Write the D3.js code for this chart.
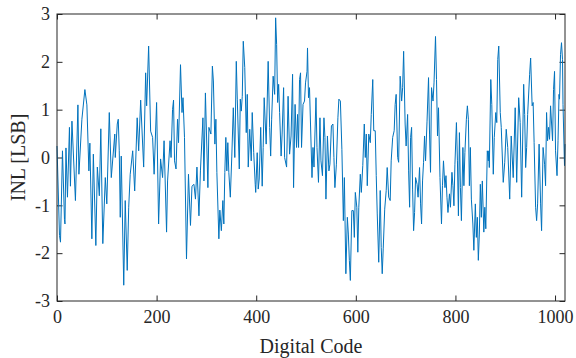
<!DOCTYPE html>
<html>
<head>
<meta charset="utf-8">
<script src="https://cdn.jsdelivr.net/npm/d3@7"></script>
<style>
  body { margin: 0; background: #fff; }
  svg { display: block; }
  text { font-family: "Liberation Serif", "Times New Roman", serif; fill: #262626; }
</style>
</head>
<body>
<svg id="chart" width="576" height="358"></svg>
<script>
// INL trace (code, value in LSB)
const codes = [0,5,7,11,15,16,18,21,25,27,30,37,42,44,50,56,60,64,66,70,73,78,81,85,88,92,97,100,105,109,116,117,121,123,125,127,129,134,137,141,144,147,152,156,
  161,164,168,174,178,180,184,188,192,195,200,204,208,212,215,220,222,227,229,232,234,236,239,242,244,248,251,253,256,260,264,268,271,275,278,281,285,288,293,295,298,303,305,309,312,314,317,319,321,325,327,330,333,335,337,
  339,341,343,345,348,351,354,357,360,362,366,368,370,372,374,377,380,382,384,387,390,392,395,398,399,402,404,406,409,412,414,416,420,424,427,429,431,434,437,439,441,443,445,447,450,452,455,457,461,464,467,470,473,475,478,481,483,485,487,489,491,494,497,499,502,503,
  505,507,509,512,514,516,520,522,525,528,530,533,536,538,540,543,546,548,551,554,556,558,561,564,566,569,572,575,577,580,583,585,587,589,592,595,597,599,602,604,606,609,611,614,617,619,621,623,626,629,631,634,636,639,641,643,646,649,651,653,655,658,661,663,666,669,671,674,677,
  679,681,684,686,689,692,694,696,699,701,704,706,708,710,712,714,716,718,720,723,725,728,730,732,734,736,738,740,743,746,748,750,752,755,757,760,762,764,766,769,772,774,776,779,781,783,785,788,790,793,795,797,799,802,804,806,808,810,812,815,817,819,822,824,826,828,830,832,835,837,840,842,844,846,848,
  850,852,854,857,859,861,864,866,867,868,871,873,876,878,881,883,885,887,890,892,896,899,902,905,909,912,916,920,923,927,930,933,937,939,941,943,945,949,951,954,956,958,961,963,965,968,971,973,976,979,981,983,985,987,989,991,995,997,999,1001,1004,1006,1008,1009,1011,1013,1015,1016,1019,1020];
const inl = [0.24,-1.63,-1.77,0.14,-1.3,-1.39,0.2,-0.83,0.63,-0.6,0.76,-0.9,1.1,-0.35,0.8,1.42,1.1,-0.28,0.3,-1.7,0.07,-1.84,-0.2,-0.8,0.6,-1.8,-0.42,-0.97,0.94,-0.42,0.49,0,0.7,0.8,0.14,-1.25,0.03,-2.67,-0.9,-2.36,-1.04,-0.35,0.14,-0.7,
  0.83,0.14,1.2,-0.2,1.77,1.08,2.33,0.55,0.42,-0.35,1.15,-1.39,-0.03,-0.42,0.35,-1.56,-0.49,0.35,0,1.0,1.2,-0.07,-0.24,0.8,0.31,1.94,0.94,1.25,0.42,-2.12,-0.35,-1.42,-0.6,-0.56,-0.87,-0.2,-1.22,-0.28,0.83,-0.49,1.35,-0.63,0.63,0.49,1.91,1.6,0.28,0.8,-0.31,-1.7,-1.1,-1.53,-0.9,-1.39,-0.31,
  0.42,-0.28,0.31,-0.31,-0.83,0.03,1.04,0,2.01,1.22,-0.24,1.22,0.97,1.28,2.43,1.88,0.52,1.32,-0.2,0.59,-0.07,0.94,0.1,-0.56,-0.73,0.1,-0.66,-0.45,0.63,-0.6,0.21,1.25,0.28,2.01,0.63,0.03,0.8,1.7,1.32,2.92,2.36,1.15,1.53,0.94,0.03,0.49,1.46,0,-0.2,1.28,0.07,0.45,1.74,-0.63,1.11,0.21,0.9,0.21,1.63,1.77,0.21,1.11,1.18,1.56,1.8,2.29,
  1.25,1.46,0.7,-0.42,0.21,-0.2,1.25,0.21,-0.52,0.83,-0.07,-0.38,0.83,0.42,-0.87,0.45,-0.28,-0.14,0.66,0.7,0,-0.63,-0.14,0.83,1.22,1.18,0.17,-1.32,-0.42,-2.43,-1.25,-1.6,-2.15,-2.57,-1.11,-1.11,-1.67,-0.73,-1.04,-1.98,-1.04,-0.35,-0.73,-0.17,0.7,0,0.49,-0.59,0.49,0.31,0.9,1.63,0.56,0.56,-0.38,-1.18,-2.19,-0.69,-1.88,-2.43,-1.91,-1.08,-0.69,-0.21,-0.83,-0.9,-0.07,0.42,0.56,
  1.11,1.32,0,-0.1,1.7,1.18,1.46,2.22,0.7,0.24,0.9,-0.28,-1.04,0.42,0.63,-0.66,-1.53,-1.15,-0.42,-0.56,-0.83,-0.21,-0.97,-1.39,-0.49,-0.1,0.45,-0.07,0.76,1.67,0.49,-0.31,1.46,1.18,1.56,2.53,1.63,0.45,1.04,-0.42,-1.39,-0.59,-0.07,-0.63,-0.38,-0.83,-1.15,-0.76,-1.04,-0.31,-0.59,-1.01,-0.14,0.73,-0.07,-1.22,0.52,-0.63,-1.32,0.21,-0.59,0.1,0.8,1.08,0.8,-0.59,0.21,-0.87,-1.39,-1.94,-0.97,-1.67,-1.25,-2.15,-1.6,
  -0.56,-1.25,-0.49,-1.56,-1.04,-1.49,0.14,-0.07,0.14,-0.21,1.63,1.11,-0.35,0.42,0.94,0.73,2.05,2.33,0.94,0.63,-0.52,-0.1,0.59,0.21,-0.87,0.45,-0.42,1.04,-0.52,1.25,0.73,-0.83,1.53,0.9,-0.21,0.21,0.9,1.74,2.08,1.08,1.15,0.31,-1.04,-1.32,-0.97,0.28,-0.97,-1.53,0.21,-0.14,-0.59,0.94,0.35,0.63,0.38,1.08,0.35,1.42,1.8,0.14,-0.38,0.35,1.32,1.22,2.15,2.4,2.05,1.11,-0.17,0.28];

const xTicks = [0, 200, 400, 600, 800, 1000];
const yTicks = [-3, -2, -1, 0, 1, 2, 3];

const plot = { left: 57, right: 565, top: 14, bottom: 301 };
const svg = d3.select("#chart");

const x = d3.scaleLinear().domain([0, 1020]).range([plot.left, plot.right]);
const y = d3.scaleLinear().domain([-3, 3]).range([plot.bottom, plot.top]);

const tick = 5.5;
const fmt = d => String(d);   // plain hyphen minus, no thousands comma

// bottom axis with labels, ticks pointing inward
const gx = svg.append("g")
  .attr("transform", "translate(0," + plot.bottom + ")")
  .call(d3.axisBottom(x).tickValues(xTicks).tickSizeInner(-tick).tickSizeOuter(0).tickPadding(9).tickFormat(fmt));
// top ticks only
const gxt = svg.append("g")
  .attr("transform", "translate(0," + plot.top + ")")
  .call(d3.axisTop(x).tickValues(xTicks).tickSizeInner(-tick).tickSizeOuter(0).tickFormat(""));
// left axis with labels
const gy = svg.append("g")
  .attr("transform", "translate(" + plot.left + ",0)")
  .call(d3.axisLeft(y).tickValues(yTicks).tickSizeInner(-tick).tickSizeOuter(0).tickPadding(7).tickFormat(fmt));
// right ticks only
const gyr = svg.append("g")
  .attr("transform", "translate(" + plot.right + ",0)")
  .call(d3.axisRight(y).tickValues(yTicks).tickSizeInner(-tick).tickSizeOuter(0).tickFormat(""));

[gx, gxt, gy, gyr].forEach(g => {
  g.attr("font-family", "Liberation Serif, Times New Roman, serif").attr("font-size", 18);
  g.select(".domain").remove();
  g.selectAll(".tick line").attr("stroke", "#262626");
  g.selectAll("text").attr("fill", "#262626");
});

// the INL line
const line = d3.line()
  .x((d, i) => x(codes[i]))
  .y(d => y(d));

svg.append("path")
  .datum(inl)
  .attr("fill", "none")
  .attr("stroke", "#0072BD")
  .attr("stroke-width", 1)
  .attr("stroke-linejoin", "round")
  .attr("d", line);

// box
svg.append("rect")
  .attr("x", plot.left).attr("y", plot.top)
  .attr("width", plot.right - plot.left).attr("height", plot.bottom - plot.top)
  .attr("fill", "none").attr("stroke", "#262626").attr("stroke-width", 1);

// axis labels
svg.append("text")
  .attr("x", (plot.left + plot.right) / 2).attr("y", 353)
  .attr("text-anchor", "middle")
  .style("font-size", "20px")
  .text("Digital Code");

svg.append("text")
  .attr("transform", "translate(25," + (plot.top + plot.bottom) / 2 + ") rotate(-90)")
  .attr("text-anchor", "middle")
  .style("font-size", "20px")
  .text("INL [LSB]");
</script>
</body>
</html>
